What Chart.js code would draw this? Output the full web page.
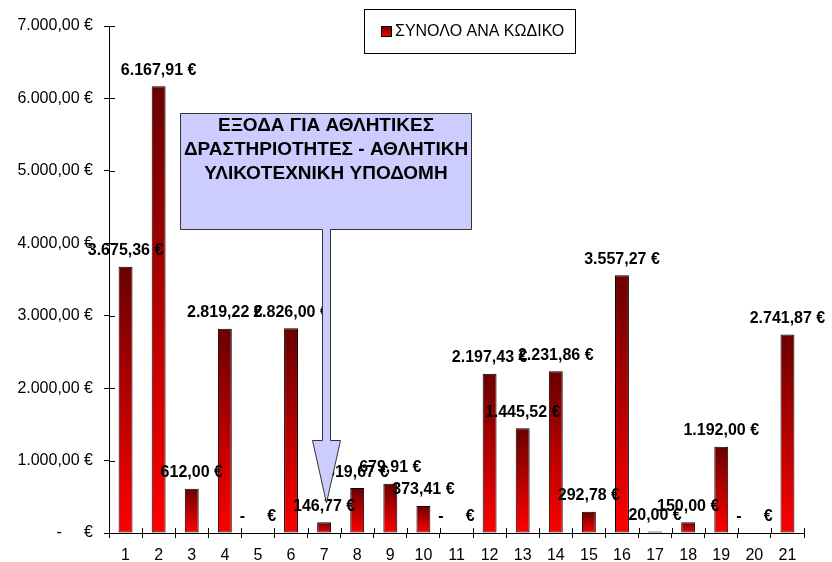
<!DOCTYPE html>
<html>
<head>
<meta charset="utf-8">
<script src="https://cdn.jsdelivr.net/npm/chart.js@4/dist/chart.umd.min.js"></script>
<style>
html,body{margin:0;padding:0;background:#fff;}
#wrap{width:832px;height:562px;}
</style>
</head>
<body>
<div id="wrap"><canvas id="c" width="832" height="562"></canvas></div>
<script>
// ---- data ----
const categories = ['1','2','3','4','5','6','7','8','9','10','11','12','13','14','15','16','17','18','19','20','21'];
const seriesName = 'ΣΥΝΟΛΟ ΑΝΑ ΚΩΔΙΚΟ';
const values = [3675.36, 6167.91, 612.00, 2819.22, 0, 2826.00, 146.77, 619.67, 679.91, 373.41, 0,
                2197.43, 1445.52, 2231.86, 292.78, 3557.27, 20.00, 150.00, 1192.00, 0, 2741.87];
const yTicks = [0, 1000, 2000, 3000, 4000, 5000, 6000, 7000];
const calloutLines = ['ΕΞΟΔΑ ΓΙΑ ΑΘΛΗΤΙΚΕΣ', 'ΔΡΑΣΤΗΡΙΟΤΗΤΕΣ - ΑΘΛΗΤΙΚΗ', 'ΥΛΙΚΟΤΕΧΝΙΚΗ ΥΠΟΔΟΜΗ'];

const FONT = '"Liberation Sans", Arial, sans-serif';
const NB = '\u00a0';

function euro(v) {
  if (v === 0) return '-' + NB.repeat(5) + '€';
  const parts = v.toFixed(2).split('.');
  const intp = parts[0].replace(/\B(?=(\d{3})+(?!\d))/g, '.');
  return intp + ',' + parts[1] + ' €';
}

function barGradient(ctx, top, bottom) {
  const g = ctx.createLinearGradient(0, top, 0, bottom);
  g.addColorStop(0, '#6a0000');
  g.addColorStop(1, '#ff0000');
  return g;
}

// axes tick marks (inner part) + data labels + legend + callout
const extras = {
  id: 'extras',
  afterDatasetsDraw(chart) {
    const ctx = chart.ctx;
    const xs = chart.scales.x, ys = chart.scales.y;
    const area = chart.chartArea;
    ctx.save();
    // inner tick marks
    ctx.strokeStyle = '#000';
    ctx.lineWidth = 1;
    ctx.beginPath();
    yTicks.forEach(t => {
      const y = Math.round(ys.getPixelForValue(t)) + 0.5;
      ctx.moveTo(area.left, y); ctx.lineTo(area.left + 6, y);
    });
    for (let i = 0; i <= categories.length; i++) {
      const x = Math.round(xs.getPixelForValue(i - 0.5)) + 0.5;
      ctx.moveTo(x, area.bottom); ctx.lineTo(x, area.bottom - 5);
    }
    ctx.stroke();

    // data labels
    const meta = chart.getDatasetMeta(0);
    ctx.fillStyle = '#000';
    ctx.font = 'bold 16px ' + FONT;
    ctx.textAlign = 'center';
    ctx.textBaseline = 'middle';
    meta.data.forEach((el, i) => {
      ctx.fillText(euro(values[i]), el.x, el.y - 16);
    });

    // legend
    const lb = {x: 364, y: 9, w: 211, h: 44};
    ctx.fillStyle = '#fff';
    ctx.fillRect(lb.x, lb.y, lb.w, lb.h);
    ctx.strokeStyle = '#000';
    ctx.strokeRect(lb.x + 0.5, lb.y + 0.5, lb.w, lb.h);
    ctx.fillStyle = barGradient(ctx, 26, 37);
    ctx.fillRect(381.5, 26.5, 10, 10);
    ctx.strokeRect(381.5, 26.5, 10, 10);
    ctx.fillStyle = '#000';
    ctx.font = '16px ' + FONT;
    ctx.textAlign = 'left';
    ctx.fillText(seriesName, 395, 32);

    // callout with arrow
    const bx = 180.5, by = 113.5, bw = 291, bh = 116;
    const sL = 322.5, sR = 330.5, hL = 312.5, hR = 340.5, hTop = 440.5, tipX = 326.5, tipY = 503;
    ctx.beginPath();
    ctx.moveTo(bx, by);
    ctx.lineTo(bx + bw, by);
    ctx.lineTo(bx + bw, by + bh);
    ctx.lineTo(sR, by + bh);
    ctx.lineTo(sR, hTop);
    ctx.lineTo(hR, hTop);
    ctx.lineTo(tipX, tipY);
    ctx.lineTo(hL, hTop);
    ctx.lineTo(sL, hTop);
    ctx.lineTo(sL, by + bh);
    ctx.lineTo(bx, by + bh);
    ctx.closePath();
    ctx.fillStyle = '#ccccff';
    ctx.fill();
    ctx.strokeStyle = '#333';
    ctx.stroke();
    ctx.fillStyle = '#000';
    ctx.font = 'bold 19px ' + FONT;
    ctx.textAlign = 'center';
    const cx = bx + bw / 2;
    calloutLines.forEach((t, i) => ctx.fillText(t, cx, 126 + i * 24));
    ctx.restore();
  }
};

new Chart(document.getElementById('c'), {
  type: 'bar',
  data: {
    labels: categories,
    datasets: [{
      label: seriesName,
      data: values,
      backgroundColor: (c) => {
        const chart = c.chart;
        if (!chart.chartArea || c.dataIndex === undefined) return '#c00000';
        const ys = chart.scales.y;
        const top = ys.getPixelForValue(values[c.dataIndex]);
        const base = ys.getPixelForValue(0);
        if (base - top < 1) return '#ff0000';
        return barGradient(chart.ctx, top, base);
      },
      borderColor: '#000',
      borderWidth: (c) => (c.raw === 0 ? 0 : 1),
      borderSkipped: false,
      barPercentage: 0.84,
      categoryPercentage: 0.5
    }]
  },
  options: {
    responsive: false,
    animation: false,
    devicePixelRatio: 1,
    layout: { padding: { left: 0, top: 26, right: 28, bottom: 0 } },
    plugins: { legend: { display: false }, tooltip: { enabled: false } },
    scales: {
      x: {
        grid: { display: true, drawOnChartArea: false, drawTicks: true, tickLength: 5, color: '#000', offset: true },
        border: { display: true, color: '#000', width: 1 },
        ticks: { color: '#000', font: { family: FONT, size: 16 }, padding: 8, maxRotation: 0, autoSkip: false },
        afterFit(s) { s.height = 29; }
      },
      y: {
        min: 0, max: 7000,
        afterBuildTicks(s) { s.ticks = yTicks.map(v => ({ value: v })); },
        grid: { display: true, drawOnChartArea: false, drawTicks: true, tickLength: 5, color: '#000' },
        border: { display: true, color: '#000', width: 1 },
        ticks: { color: '#000', font: { family: FONT, size: 16 }, padding: 11, callback: (v) => euro(v) },
        afterFit(s) { s.width = 109; }
      }
    }
  },
  plugins: [extras]
});
</script>
</body>
</html>
